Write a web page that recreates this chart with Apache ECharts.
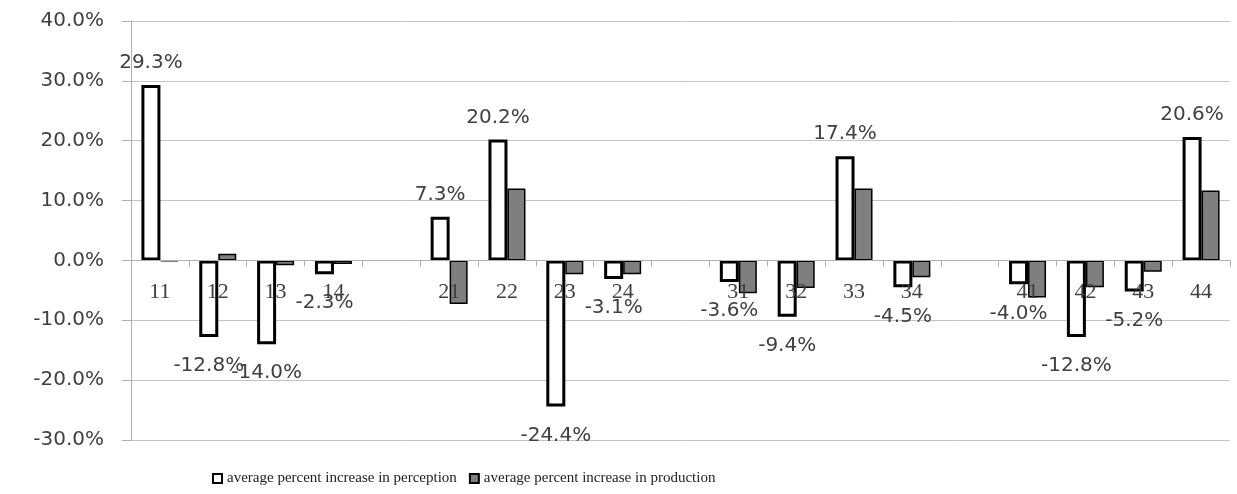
<!DOCTYPE html>
<html>
<head>
<meta charset="utf-8">
<script src="https://cdn.jsdelivr.net/npm/echarts@6/dist/echarts.min.js"></script>
<style>
  html, body { margin: 0; padding: 0; background: #fff; }
  #chart { width: 1237px; height: 494px; }
</style>
</head>
<body>
<div id="chart"></div>
<script>
// categories, with an empty slot between each group
const categories = ['11', '12', '13', '14', '', '21', '22', '23', '24', '', '31', '32', '33', '34', '', '41', '42', '43', '44'];
const perception = [29.3, -12.8, -14.0, -2.3, '-', 7.3, 20.2, -24.4, -3.1, '-', -3.6, -9.4, 17.4, -4.5, '-', -4.0, -12.8, -5.2, 20.6];
const production = [-0.1, 1.1, -0.8, -0.6, '-', -7.3, 12.0, -2.3, -2.3, '-', -5.5, -4.6, 12.0, -2.8, '-', -6.2, -4.5, -1.9, 11.7];
const yTicks = { min: -30, max: 40, step: 10 };

const seriesNames = ['average percent increase in perception', 'average percent increase in production'];

const chart = echarts.init(document.getElementById('chart'));

const gridTop = 21, gridBottom = 54, chartH = 494;
// pixel distance from bottom of grid up to the zero line
const zeroOffset = (chartH - gridTop - gridBottom) * (0 - yTicks.min) / (yTicks.max - yTicks.min);

// per-bar label placement: above for positive, below for negative
const perceptionData = perception.map(v => {
    if (v === '-') return '-';
    return {
        value: v,
        label: { position: v >= 0 ? 'top' : 'bottom', distance: v >= 0 ? 12 : 19 }
    };
});

const option = {
    animation: false,
    grid: { left: 131, right: 7, top: gridTop, bottom: gridBottom },
    legend: {
        left: 207,
        bottom: 3,
        itemWidth: 9,
        itemHeight: 9,
        itemGap: 12,
        icon: 'rect',
        textStyle: { fontFamily: 'Liberation Serif', fontSize: 15, color: '#222' },
        data: seriesNames
    },
    xAxis: {
        type: 'category',
        data: categories,
        offset: -zeroOffset,
        z: 10,
        axisLine: { onZero: false, lineStyle: { color: '#b0b0b0', width: 1 } },
        axisTick: { show: true, length: 6, lineStyle: { color: '#b0b0b0' } },
        axisLabel: { margin: 21, fontFamily: 'Liberation Serif', fontSize: 22, color: '#404040' }
    },
    yAxis: {
        type: 'value',
        min: yTicks.min,
        max: yTicks.max,
        interval: yTicks.step,
        axisLine: { show: true, lineStyle: { color: '#b0b0b0' } },
        axisTick: { show: true, inside: false, length: 9, lineStyle: { color: '#b0b0b0' } },
        splitLine: { lineStyle: { color: '#c4c4c4' } },
        axisLabel: {
            margin: 27,
            fontFamily: 'DejaVu Sans',
            fontSize: 20,
            color: '#404040',
            formatter: v => v.toFixed(1) + '%'
        }
    },
    series: [
        {
            name: seriesNames[0],
            type: 'bar',
            barWidth: 19,
            barGap: '0%',
            data: perceptionData,
            itemStyle: { color: '#ffffff', borderColor: '#000', borderWidth: 3 },
            label: {
                show: true,
                fontFamily: 'DejaVu Sans',
                fontSize: 20,
                color: '#404040',
                formatter: p => p.value.toFixed(1) + '%'
            }
        },
        {
            name: seriesNames[1],
            type: 'bar',
            barWidth: 18,
            data: production,
            itemStyle: { color: '#7f7f7f', borderColor: '#000', borderWidth: 1.5 }
        }
    ]
};

chart.setOption(option);
</script>
</body>
</html>
